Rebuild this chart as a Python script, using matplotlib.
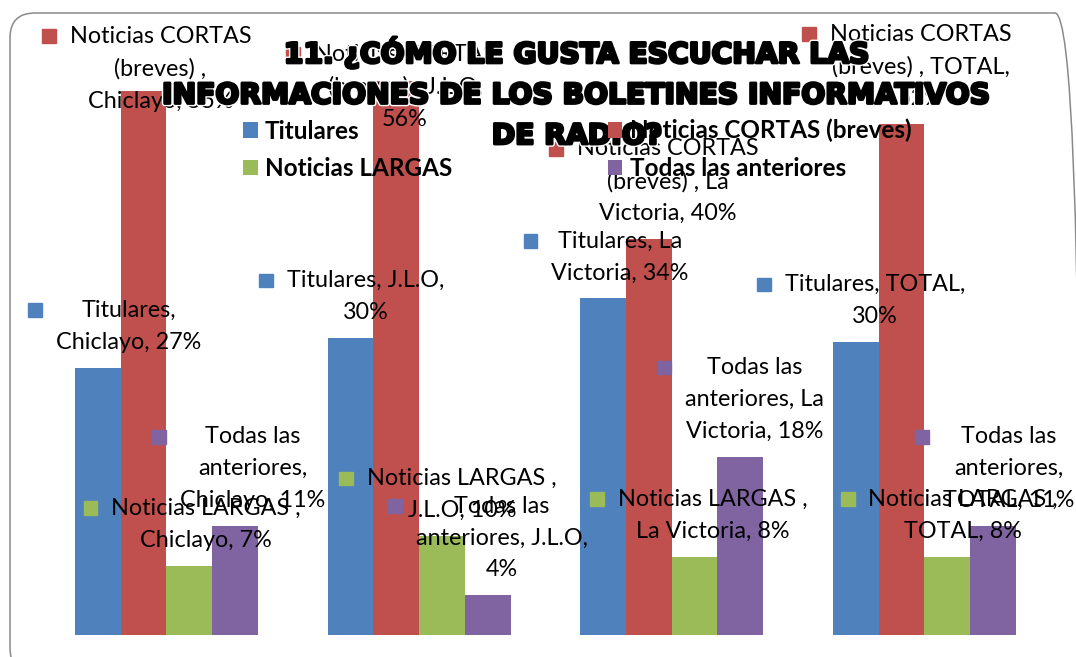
import textwrap
import numpy as np
import matplotlib
matplotlib.use('Agg')
import matplotlib.pyplot as plt
import matplotlib.patheffects as pe
from matplotlib.patches import FancyBboxPatch, Rectangle
from matplotlib.offsetbox import AnnotationBbox, DrawingArea, HPacker, TextArea
from matplotlib.transforms import IdentityTransform

# datos (porcentajes)
ciudades = ['Chiclayo', 'J.L.O', 'La Victoria', 'TOTAL']
series = ['Titulares', 'Noticias CORTAS (breves) ', 'Noticias LARGAS ', 'Todas las anteriores']
titulares = [27, 30, 34, 29.6]
cortas = [55, 56, 40, 51.6]
largas = [7, 10, 7.9, 7.9]
anteriores = [11, 4, 18, 11]
colores = ['#4F81BD', '#C0504D', '#9BBB59', '#8064A2']

titulo = '11. ¿CÓMO LE GUSTA ESCUCHAR LAS\nINFORMACIONES DE LOS BOLETINES INFORMATIVOS\nDE RADIO?'

# ajustes de las etiquetas (estilo, no datos)
ancho_linea = [17, 18, 17, 17]
desplaz_x = [[17, 1, 3, 5], [3, -5, 5, 5], [3, 6, 4, 2], [4, 0, 0, 2]]
desplaz_y = [[0, 0, 0, 0], [-36, -64, 0, 0], [0, 0, 0, 0], [0, 0, 0, 0]]
separacion = 15

plt.rcParams['font.family'] = ['Lato', 'DejaVu Sans']

fig = plt.figure(figsize=(10.76, 6.57), dpi=100)
ax = fig.add_axes([40 / 1076, 22 / 657, 1010.8 / 1076, 594 / 657])

valores = [titulares, cortas, largas, anteriores]
x = np.arange(len(ciudades))
w = 0.181
barras = []
for i, vals in enumerate(valores):
    b = ax.bar(x + (i - 1.5) * w, vals, w, color=colores[i], label=series[i].strip(), zorder=2)
    barras.append(b)

ax.set_xlim(-0.5, 3.5)
ax.set_ylim(0, 60)
ax.axis('off')


def etiqueta(texto, color):
    clave = DrawingArea(10, 12.5)
    clave.add_artist(Rectangle((0, 0), 10, 10, color=color))
    cuerpo = TextArea(texto, textprops=dict(fontsize=16.8, multialignment='center', linespacing=1.64, color='black'))
    return HPacker(children=[clave, cuerpo], align='top', pad=0, sep=10)


for i, vals in enumerate(valores):
    for j, v in enumerate(vals):
        texto = '\n'.join(textwrap.wrap(f'{series[i]}, {ciudades[j]}, {v:.0f}%', ancho_linea[j]))
        ab = AnnotationBbox(etiqueta(texto, colores[i]), (x[j] + (i - 1.5) * w, v),
                            xybox=(desplaz_x[i][j], separacion + desplaz_y[i][j]),
                            xycoords='data', boxcoords='offset pixels', box_alignment=(0.5, 0),
                            frameon=False, pad=0, annotation_clip=False, zorder=3)
        ab.set_clip_on(False)
        ax.add_artist(ab)

# titulo por encima de las etiquetas
fig.text(0.5365, 1 - 93 / 657, titulo, ha='center', va='center', multialignment='center',
         fontsize=20.3, fontweight='bold', family='DejaVu Sans', linespacing=1.57, zorder=4,
         path_effects=[pe.Stroke(linewidth=4.0, foreground='white'),
                       pe.Stroke(linewidth=2.0, foreground='black'), pe.Normal()])

# leyenda (columna 1: Titulares, LARGAS; columna 2: CORTAS, Todas)
orden = [0, 2, 1, 3]
fig.legend([barras[k] for k in orden], [series[k].strip() for k in orden],
           loc='upper left', bbox_to_anchor=(243 / 1076, 1 - 119 / 657), ncol=2, frameon=False,
           prop=dict(family='Lato', weight='bold', size=17.5), borderpad=0, borderaxespad=0,
           handlelength=0.6, handleheight=0.6, handletextpad=0.3, columnspacing=6.4, labelspacing=0.6)

# marco redondeado
marco = FancyBboxPatch((10, -16), 1070, 660, boxstyle='round,pad=0,rounding_size=25',
                       transform=IdentityTransform(), fill=False, edgecolor='#8a8a8a', linewidth=1.1)
fig.add_artist(marco)

fig.savefig('out.png', dpi=100)
